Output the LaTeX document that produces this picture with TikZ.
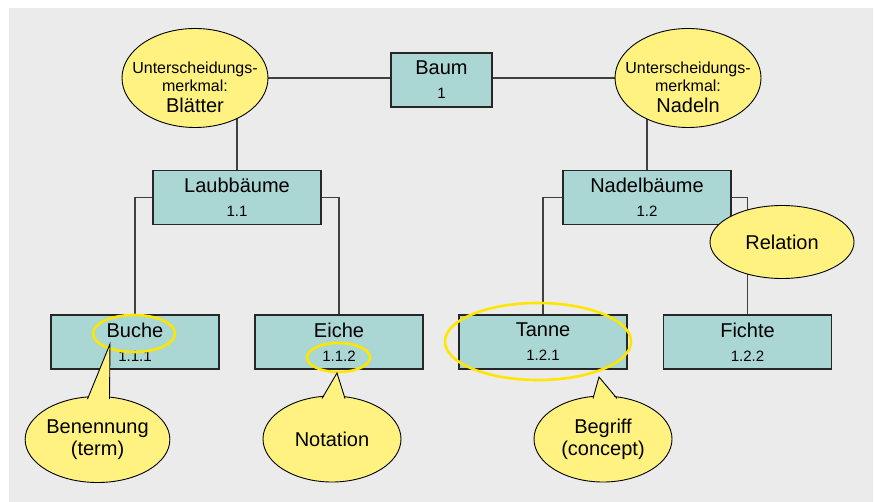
\documentclass[tikz,border=0pt]{standalone}
\usepackage{fontspec}
\setmainfont{Liberation Sans}
\usetikzlibrary{shapes.geometric}
\pgfdeclarelayer{background}
\pgfsetlayers{background,main}
\definecolor{boxfill}{RGB}{170,214,212}
\definecolor{notefill}{RGB}{255,242,128}
\definecolor{hiliteline}{RGB}{255,230,0}
\definecolor{panel}{RGB}{235,235,235}
\definecolor{wire}{RGB}{64,64,64}
\tikzstyle{class}=[rectangle,draw=black!85,line width=1.1pt,fill=boxfill,minimum width=168pt,minimum height=54pt,inner sep=0pt,align=center,font=\fontsize{20}{24}\selectfont]
\tikzstyle{feature}=[ellipse,draw=black,line width=0.9pt,fill=notefill,minimum width=146pt,minimum height=99pt,inner sep=0pt]
\tikzstyle{callout}=[ellipse,draw=black,line width=0.9pt,fill=notefill,minimum width=138pt,minimum height=86pt,inner sep=0pt,align=center,font=\fontsize{20}{22}\selectfont]
\tikzstyle{hilite}=[ellipse,draw=hiliteline,line width=2.6pt,inner sep=0pt]
\tikzstyle{link}=[draw=wire,line width=1.4pt]
\tikzstyle{pointer}=[draw=black,line width=0.9pt,line join=miter]
\newcommand{\nrtxt}[1]{{\fontsize{15}{18}\selectfont #1}}

\begin{document}
\begin{tikzpicture}[x=1pt,y=-1pt]
    \useasboundingbox (0,0) rectangle (874,502);
    % First the classes of the tree
    \node[class,minimum width=101pt] (baum) at (441.5,80) {Baum\\\nrtxt{1}};
    \foreach \pos/\name/\txt/\nr in {{(237,197.5)/laub/Laubbäume/1.1}, {(647,197.5)/nadel/Nadelbäume/1.2},
        {(135,342)/buche/Buche/1.1.1}, {(339,342)/eiche/Eiche/1.1.2}, {(543,342)/tanne/Tanne/1.2.1}, {(747.5,342)/fichte/Fichte/1.2.2}}
        \node[class] (\name) at \pos {\txt\\\nrtxt{\nr}};

    % Distinguishing features
    \node[feature] (blaetter) at (195,78) {};
    \node[align=center,font=\fontsize{16}{18}\selectfont] (blaetterTxt) at (195,87) {Unterscheidungs-\\merkmal:\\[3pt]{\fontsize{20}{23}\selectfont Blätter}};
    \node[feature] (nadeln) at (688,78) {};
    \node[align=center,font=\fontsize{16}{18}\selectfont] (nadelnTxt) at (688,87) {Unterscheidungs-\\merkmal:\\[3pt]{\fontsize{20}{23}\selectfont Nadeln}};

    % Yellow marks
    \node[hilite,minimum width=82pt,minimum height=37pt] (hlBuche) at (134,333.5) {};
    \node[hilite,minimum width=63pt,minimum height=29pt] (hlEiche) at (338.5,357.5) {};
    \node[hilite,minimum width=186pt,minimum height=77pt] (hlTanne) at (538,341.5) {};

    % Callouts
    \node[callout,minimum width=144pt,minimum height=73pt] (relation) at (782,242) {Relation};
    \node[callout] (benennung) at (97.5,439.5) {Benennung\\(term)};
    \node[callout] (notation) at (332,439) {Notation};
    \node[callout] (begriff) at (603,439) {Begriff\\(concept)};
    \coordinate (tipBuche) at (110,344);
    \coordinate (tipEiche) at (337,373);
    \coordinate (tipTanne) at (599,377);
    \foreach \note/\tip/\dl/\dr in {benennung/tipBuche/-10/12, notation/tipEiche/-10/13, begriff/tipTanne/-10/14} {
        \fill[notefill] ([shift={(\dl,-39)}]\note.center) -- (\tip) -- ([shift={(\dr,-39)}]\note.center) -- cycle;
        \path[pointer] ([shift={(\dl,-40.5)}]\note.center) -- (\tip) -- ([shift={(\dr,-40.5)}]\note.center);
    }

    % Connect with lines
    \begin{pgfonlayer}{background}
        \fill[white] (0,0) rectangle (874,502);
        \fill[panel] (9,8) rectangle (873,502);
        \path[link] (blaetter) -- (blaetter -| baum.west);
        \path[link] (nadeln -| baum.east) -- (nadeln);
        \path[link] (laub.north) -- (laub.north |- blaetter);
        \path[link] (nadel.north) -- (nadel.north |- nadeln);
        \foreach \source/\dest in {laub.west/buche, laub.east/eiche, nadel.west/tanne, nadel.east/fichte}
            \path[link] (\source) -| (\dest.north);
    \end{pgfonlayer}
\end{tikzpicture}
\end{document}
